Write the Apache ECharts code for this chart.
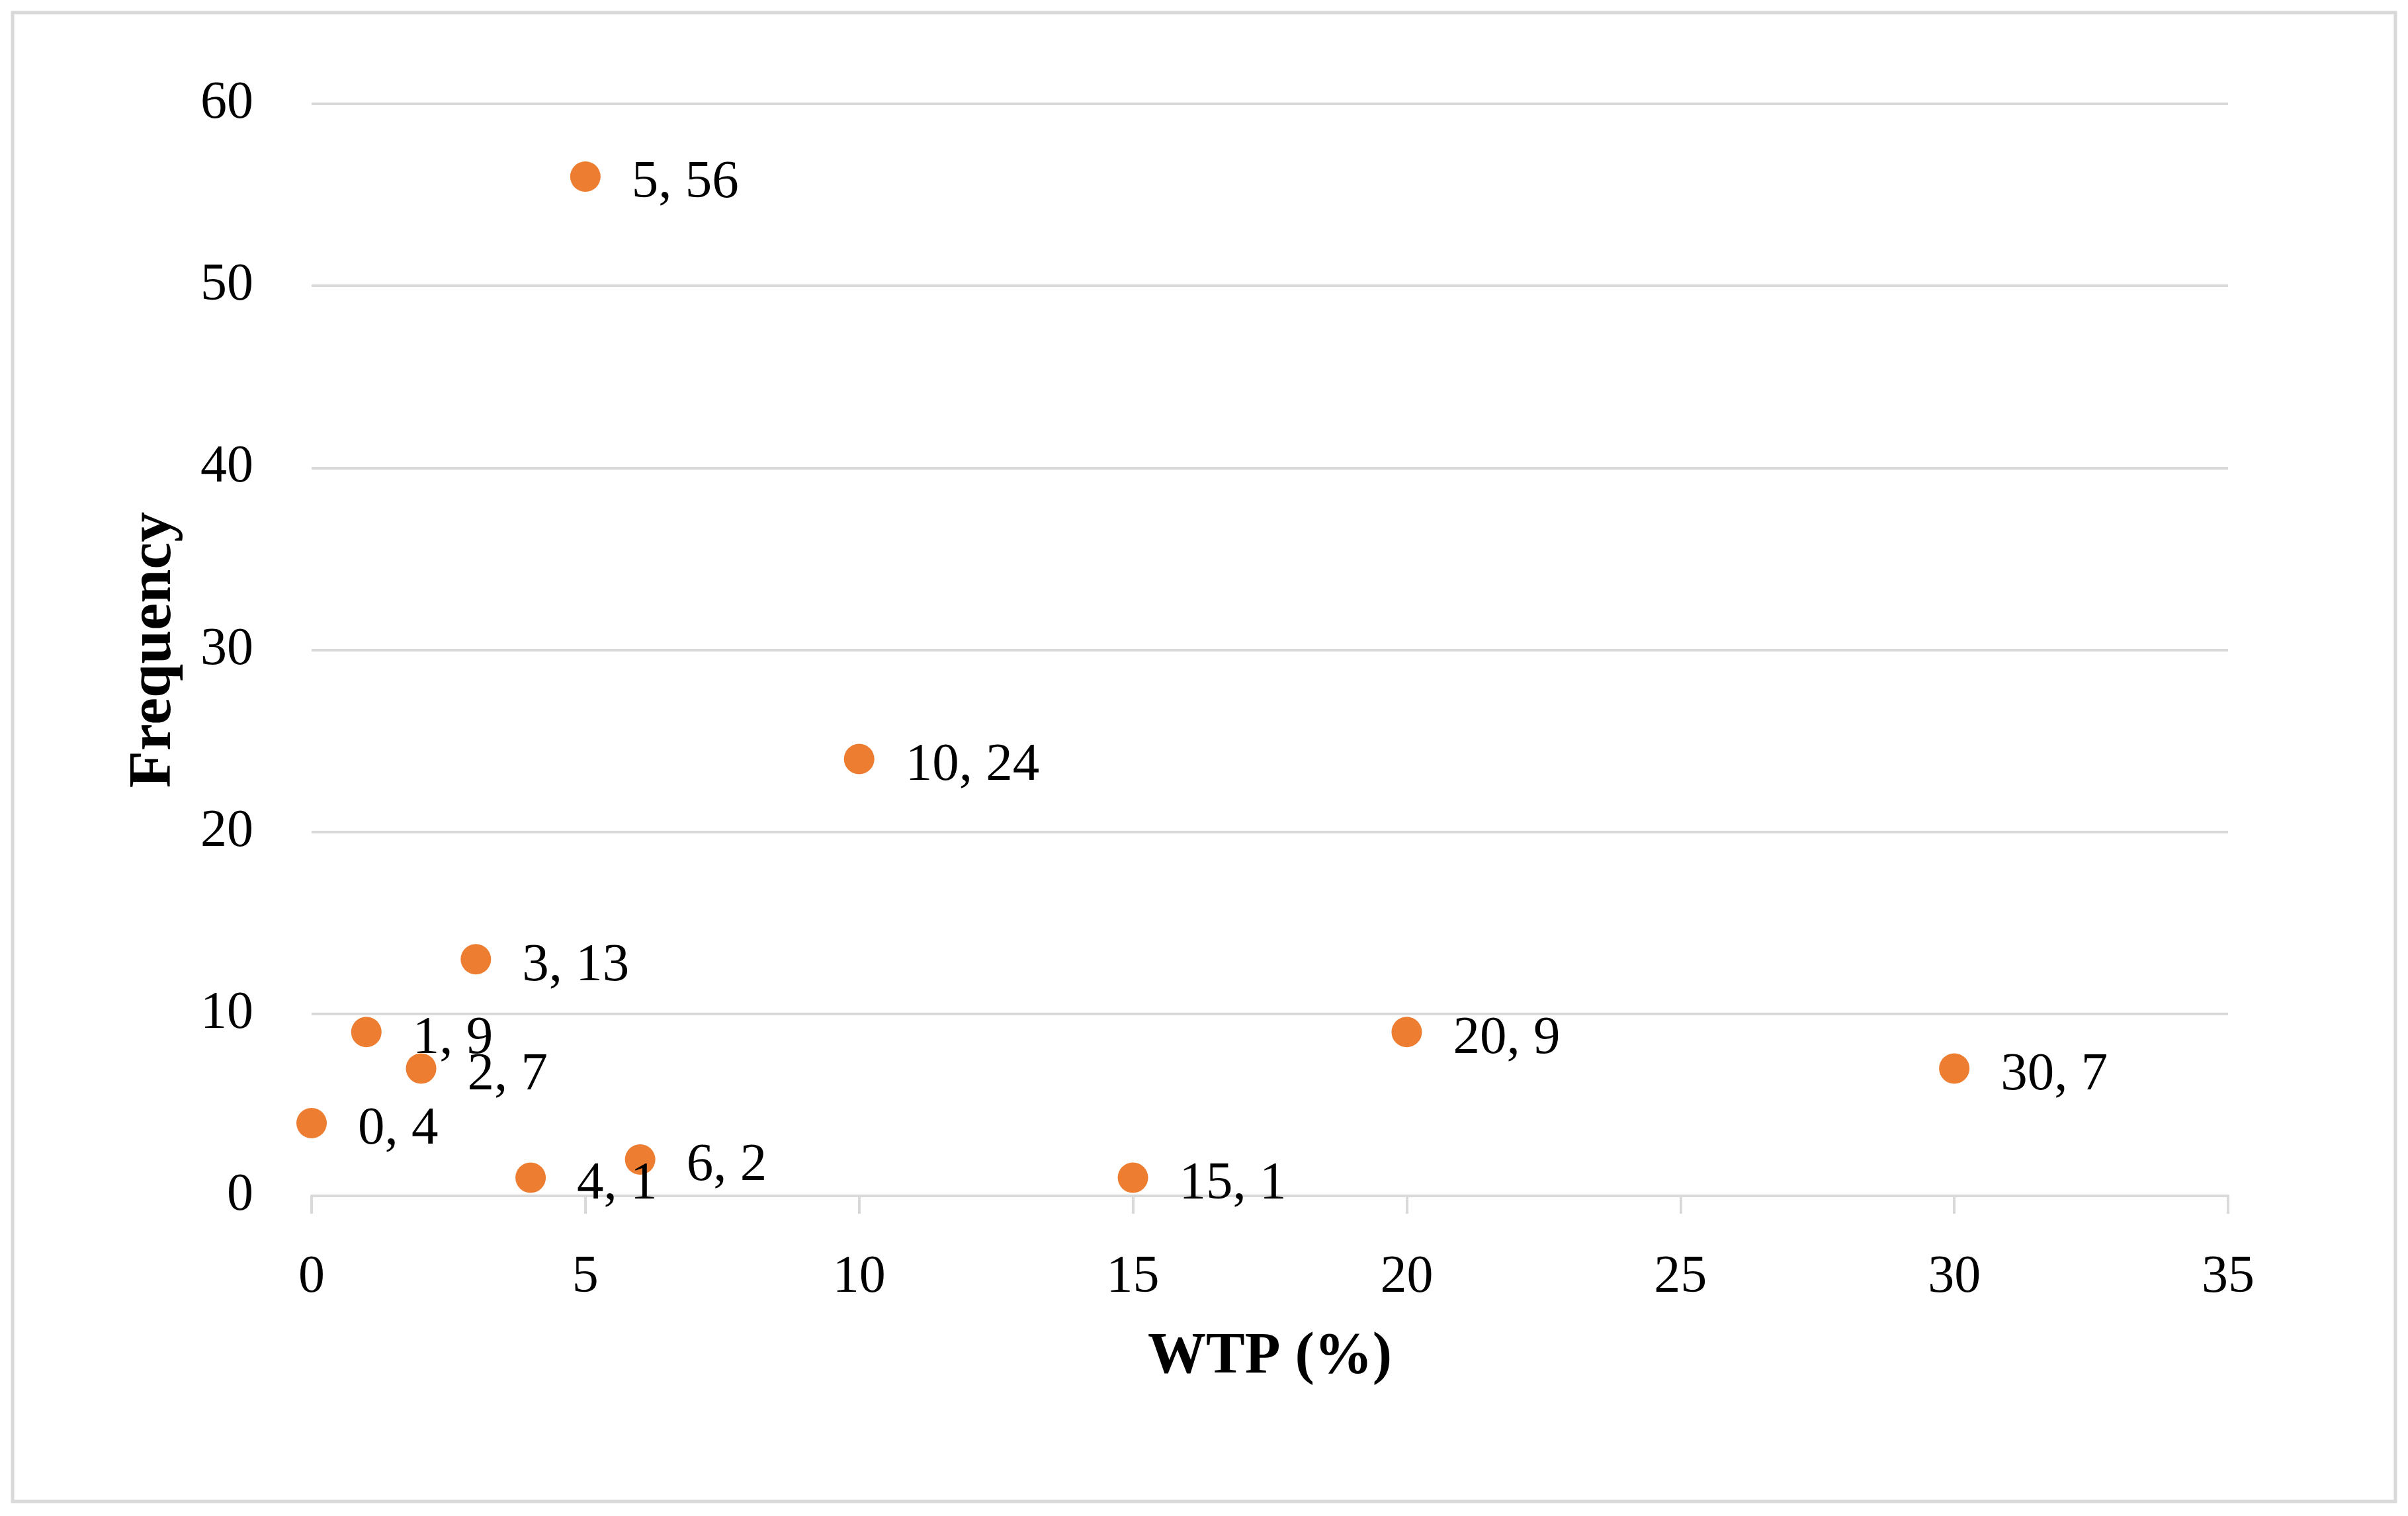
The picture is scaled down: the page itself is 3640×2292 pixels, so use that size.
<!DOCTYPE html>
<html>
<head>
<meta charset="utf-8">
<script src="https://cdn.jsdelivr.net/npm/echarts@6/dist/echarts.min.js"></script>
<style>
html,body{margin:0;padding:0;background:#fff;}
#chart{width:3640px;height:2292px;}
</style>
</head>
<body>
<div id="chart"></div>
<script>
const wtp = [0, 1, 2, 3, 4, 5, 6, 10, 15, 20, 30];
const frequency = [4, 9, 7, 13, 1, 56, 2, 24, 1, 9, 7];
const xTicks = [0, 5, 10, 15, 20, 25, 30, 35];
const yTicks = [0, 10, 20, 30, 40, 50, 60];
const xTitle = 'WTP (%)';
const yTitle = 'Frequency';

const points = wtp.map((x, i) => [x, frequency[i]]);
const FONT = '"Liberation Serif", "Times New Roman", serif';
const GRAY = '#d9d9d9';

const chart = echarts.init(document.getElementById('chart'));
chart.setOption({
  backgroundColor: '#ffffff',
  animation: false,
  graphic: [{
    type: 'rect',
    shape: {x: 19, y: 19, width: 3602, height: 2251},
    style: {fill: 'none', stroke: GRAY, lineWidth: 5},
    silent: true
  }],
  grid: {left: 471, right: 272, top: 157, bottom: 484, containLabel: false},
  xAxis: {
    type: 'value',
    min: xTicks[0],
    max: xTicks[xTicks.length - 1],
    interval: xTicks[1] - xTicks[0],
    name: xTitle,
    nameLocation: 'middle',
    nameGap: 200,
    nameTextStyle: {fontFamily: FONT, fontSize: 88, fontWeight: 'bold', color: '#000'},
    axisLine: {show: true, lineStyle: {color: GRAY, width: 4}},
    axisTick: {show: true, length: 27, lineStyle: {color: GRAY, width: 4}},
    axisLabel: {margin: 84, fontFamily: FONT, fontSize: 80, color: '#000'},
    splitLine: {show: false}
  },
  yAxis: {
    type: 'value',
    min: yTicks[0],
    max: yTicks[yTicks.length - 1],
    interval: yTicks[1] - yTicks[0],
    name: yTitle,
    nameLocation: 'middle',
    nameGap: 192,
    nameTextStyle: {fontFamily: FONT, fontSize: 92, fontWeight: 'bold', color: '#000'},
    axisLine: {show: false},
    axisTick: {show: false},
    axisLabel: {margin: 88, fontFamily: FONT, fontSize: 80, color: '#000'},
    splitLine: {show: true, lineStyle: {color: GRAY, width: 4}}
  },
  series: [{
    type: 'scatter',
    data: points,
    symbol: 'circle',
    symbolSize: 46,
    itemStyle: {color: '#ED7D31', opacity: 1},
    label: {
      show: true,
      position: 'right',
      distance: 47,
      offset: [0, 10],
      fontFamily: FONT,
      fontSize: 81,
      color: '#000',
      formatter: p => p.value[0] + ', ' + p.value[1]
    },
    z: 3
  }]
});
</script>
</body>
</html>
